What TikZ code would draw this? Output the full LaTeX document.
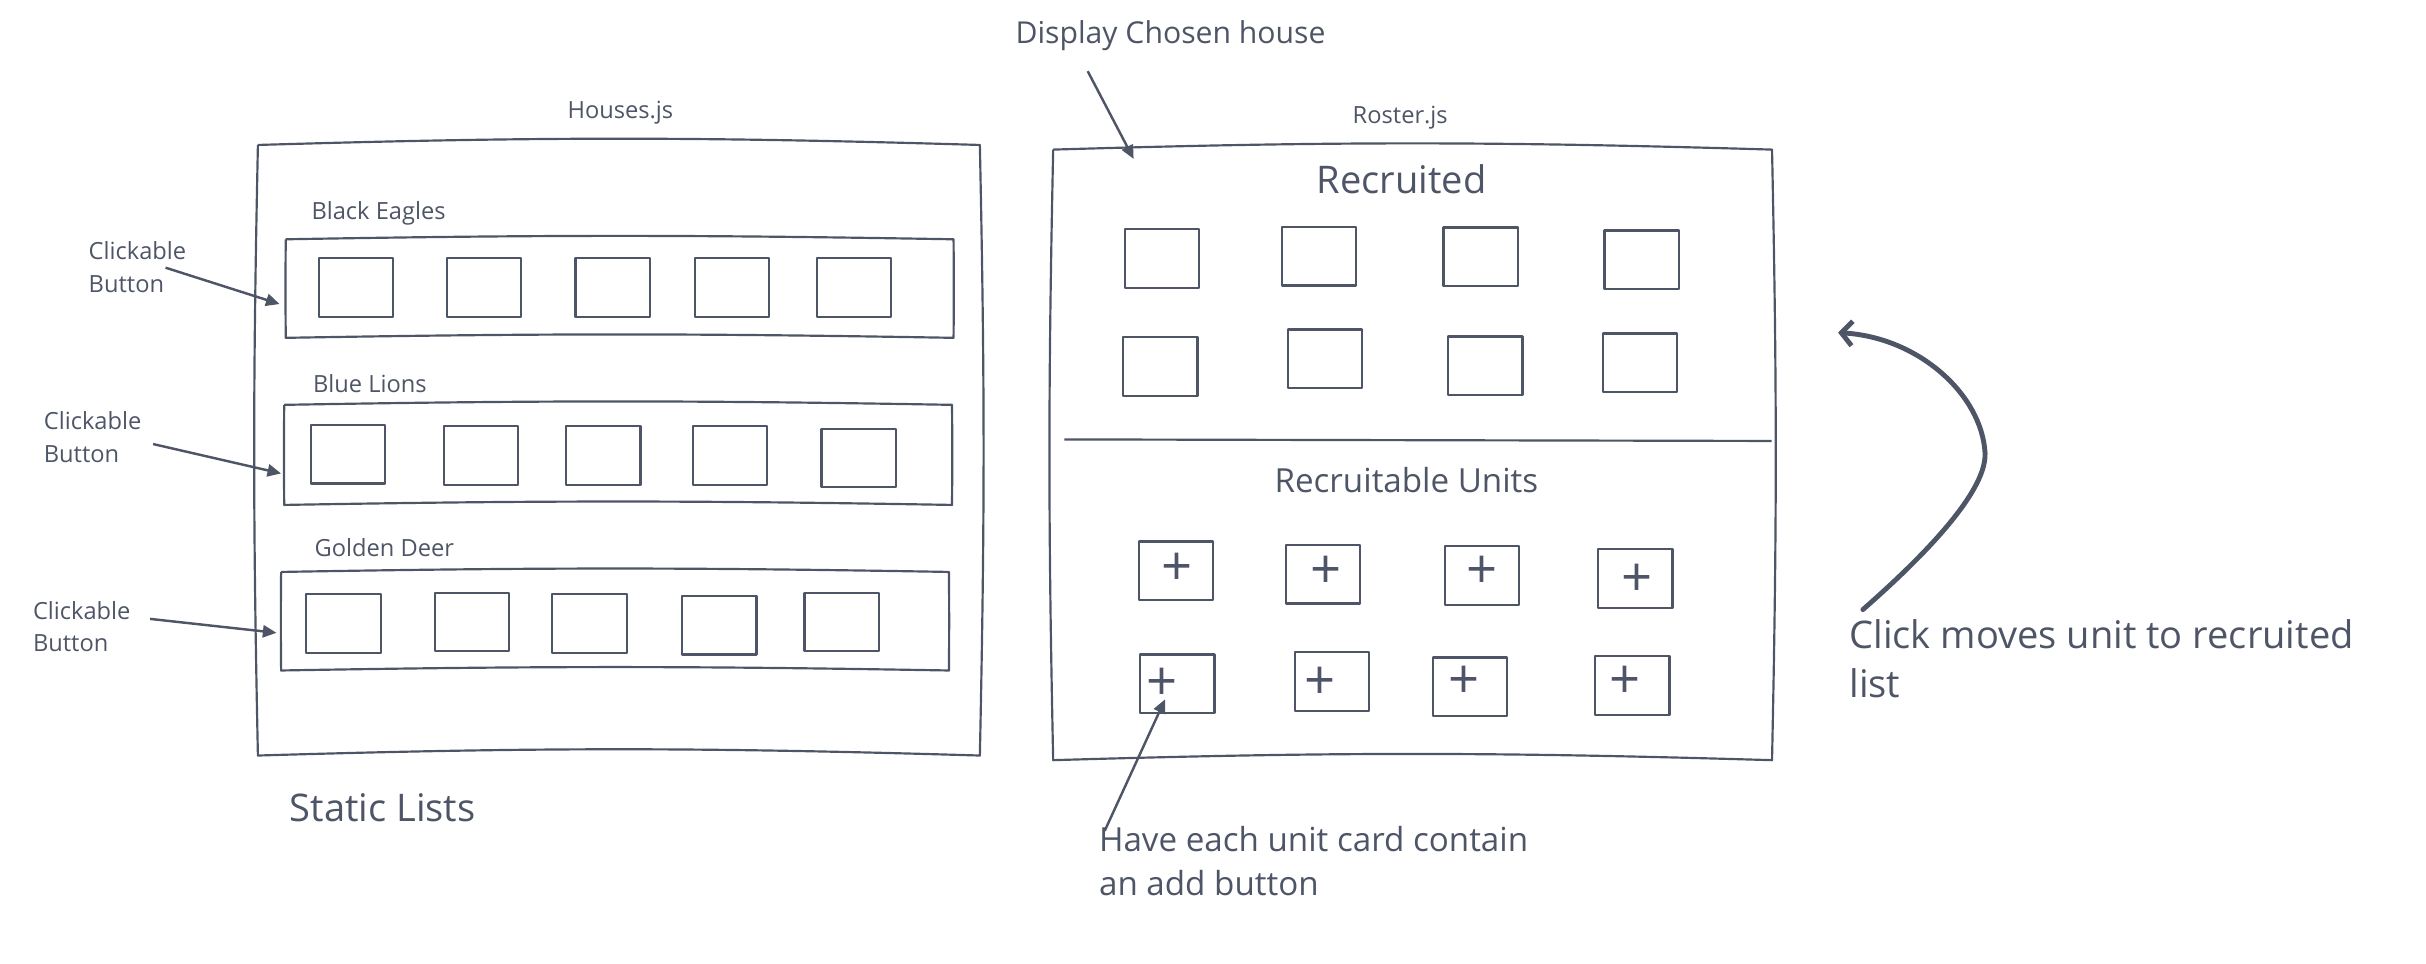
\documentclass[tikz,border=0pt]{standalone}
\usepackage{fontspec}
\setmainfont{Open Sans}
\usetikzlibrary{arrows.meta,calc}
\definecolor{ink}{HTML}{4E5566}
\newcommand\skbox[3]{\draw[boxline] (#1.north west) to[bend left=#2] (#1.north east) to[bend left=#3] (#1.south east) to[bend right=#2] (#1.south west) to[bend left=#3] (#1.north west);}
\begin{document}
\begin{tikzpicture}[x=0.02cm,y=-0.02cm,line join=round,
  boxline/.style={draw=ink,line width=0.8pt},
  holder/.style={draw=none,inner sep=0pt},
  sq/.style={draw=ink,line width=0.8pt,minimum width=0.96cm,minimum height=0.76cm,inner sep=0pt},
  plus/.style={text=ink,inner sep=0pt,font=\fontsize{20}{20}\selectfont},
  small/.style={text=ink,inner sep=0pt,font=\fontsize{8.7}{12}\selectfont},
  medium/.style={text=ink,inner sep=0pt,font=\fontsize{12.2}{16.5}\selectfont},
  large/.style={text=ink,inner sep=0pt,font=\fontsize{14}{18}\selectfont},
  arr/.style={draw=ink,line width=0.9pt,-{Triangle[length=5pt,width=4.5pt]}},
  curvearr/.style={draw=ink,line width=1.8pt,line cap=round,-{Straight Barb[length=4pt,width=9pt]}}
]
\useasboundingbox (0,0) rectangle (1568,623);

% ---------------- Houses.js ----------------
\node[small] (houseslbl) at (401,73) {Houses.js};
\node[holder,minimum width=9.32cm,minimum height=7.88cm] (houses) at (400,291) {};
\skbox{houses}{1.7}{1.2}

\node[small,anchor=west] (be) at (201,138) {Black Eagles};
\node[holder,minimum width=8.62cm,minimum height=1.26cm] (row1) at (400.5,186.5) {};
\skbox{row1}{1.0}{0.5}
\foreach \x/\y [count=\i] in {230/186,313/186,396/186,473/186,552/186}
  \node[sq] (ra\i) at (\x,\y) {};

\node[small,anchor=west] (bl) at (202,248) {Blue Lions};
\node[holder,minimum width=8.62cm,minimum height=1.28cm] (row2) at (399.5,294) {};
\skbox{row2}{1.0}{0.5}
\foreach \x/\y [count=\i] in {225/293.5,311/294.5,390/294.5,472/294.5,555/296}
  \node[sq] (rb\i) at (\x,\y) {};

\node[small,anchor=west] (gd) at (203,354) {Golden Deer};
\node[holder,minimum width=8.62cm,minimum height=1.26cm] (row3) at (397.5,401.5) {};
\skbox{row3}{1.0}{0.5}
\foreach \x/\y [count=\i] in {222/403,305/402,381/403,465/404,544/402}
  \node[sq] (rc\i) at (\x,\y) {};

\node[small,anchor=west,align=left] (cb1) at (57,172.5) {Clickable\\Button};
\node[small,anchor=west,align=left] (cb2) at (28,282.5) {Clickable\\Button};
\node[small,anchor=west,align=left] (cb3) at (21,405) {Clickable\\Button};
\coordinate (s1) at (107,173);
\coordinate (s2) at (99,287);
\coordinate (s3) at (97,400);
\draw[arr] (s1) -- ($(row1.west)+(-4,10)$);
\draw[arr] (s2) -- ($(row2.west)+(-2,12)$);
\draw[arr] (s3) -- ($(row3.west)+(-3,7.5)$);

\node[large,anchor=west] (static) at (187,522) {Static Lists};

% ---------------- Roster.js ----------------
\node[medium,anchor=west,font=\fontsize{11.1}{16}\selectfont] (display) at (656,23) {Display Chosen house};
\node[small] (rosterlbl) at (905,76) {Roster.js};
\node[holder,minimum width=9.28cm,minimum height=7.88cm] (roster) at (913,294) {};
\skbox{roster}{1.7}{1.2}
\coordinate (ds) at (703,46);
\draw[arr] (ds) -- ($(roster.north west)+(52,6)$);

\node[large] (recruited) at (906,116) {Recruited};
\foreach \x/\y [count=\i] in {751/167,852.5/165.5,957/166,1061/168}
  \node[sq] (ka\i) at (\x,\y) {};
\foreach \x/\y [count=\i] in {750/237,856.5/232,960/236.5,1060/234.5}
  \node[sq] (kb\i) at (\x,\y) {};

\draw[boxline] (688,284) -- (1145,285);

\node[medium] (recruitable) at (909,310) {Recruitable Units};
\foreach \x/\y/\dx/\dy [count=\i] in {760/369/1/-1,855/371/2/-1,958/372/0/-2,1057/374/1/1}{
  \node[sq] (ua\i) at (\x,\y) {};
  \node[plus] (pa\i) at ($(ua\i.center)+(\dx,\dy)$) {+};
}
\foreach \x/\y/\dx/\dy [count=\i] in {761/442/-10/0,861/440.5/-8/1,950/444/-4/-3,1055/443/-5/-2}{
  \node[sq] (ub\i) at (\x,\y) {};
  \node[plus] (pb\i) at ($(ub\i.center)+(\dx,\dy)$) {+};
}

\node[medium,anchor=west,align=left] (have) at (710,556.5) {Have each unit card contain\\an add button};
\coordinate (hs) at (714,537);
\draw[arr] (hs) -- ($(ub1.center)+(-8,10)$);

% ---------------- curved arrow ----------------
\coordinate (cs) at (1204,394);
\coordinate (ce) at (1188,215);
\draw[curvearr] (cs) .. controls (1236,366) and (1284,320) .. (1283,293) .. controls (1281,255) and (1240,218) .. (ce);
\node[large,anchor=west,align=left] (click) at (1195,426) {Click moves unit to recruited\\list};
\end{tikzpicture}
\end{document}
